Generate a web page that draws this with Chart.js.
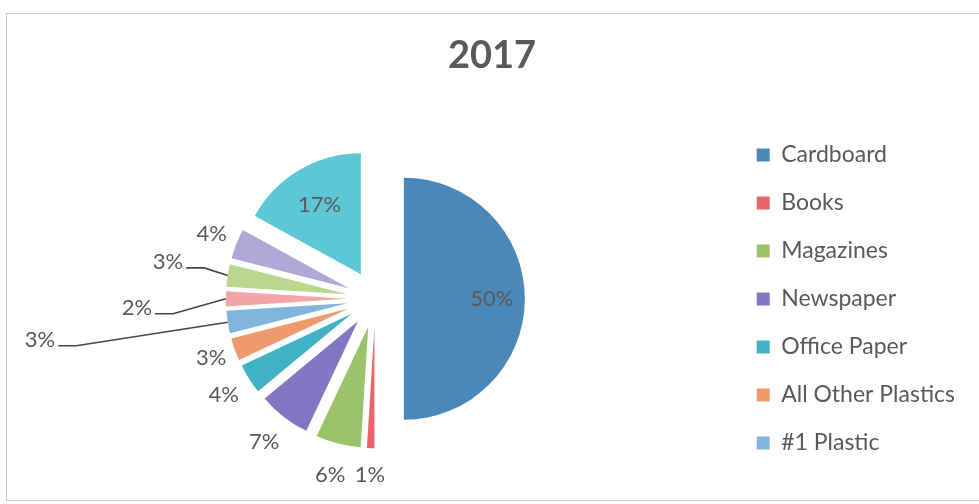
<!DOCTYPE html>
<html>
<head>
<meta charset="utf-8">
<script src="https://cdn.jsdelivr.net/npm/chart.js@4.4.1/dist/chart.umd.min.js"></script>
<style>
  body { margin: 0; background: #fff; }
  #frame { position: absolute; left: 6px; top: 13px; width: 990px; height: 486px; border: 1px solid #c9c9c9; }
  #wrap { position: absolute; left: 0; top: 0; width: 979px; height: 504px; }
</style>
</head>
<body>
<div id="frame"></div>
<div id="wrap"><canvas id="pieChart" width="979" height="504"></canvas></div>
<script>
// values (percent)
const categories = ['Cardboard', 'Books', 'Magazines', 'Newspaper', 'Office Paper', 'All Other Plastics', '#1 Plastic',
    'Other 1', 'Other 2', 'Other 3', 'Other 4'];
const shares = [50, 1, 6, 7, 4, 3, 3, 2, 3, 4, 17];
const legendCount = 7; // only the first seven names show in the legend

const sliceColors = ['#4a88b9', '#e8656c', '#9cc26a', '#8476c2', '#40b2c4', '#ef9a6c',
    '#80b6dc', '#f4a5a8', '#b9d68e', '#b2a8d8', '#5ec7d6'];

const pieRadius = 121;
const explode = 28.5; // every slice pulled out by the same distance

// where each percentage goes: distance from the slice tip, extra shift, leader line
const labelPlace = [
    { d: 88 }, { d: 147.5 }, { d: 153 }, { d: 153 }, { d: 151 }, { d: 146 },
    { d: 150, dx: -159, dy: 13, leader: true },
    { d: 150, dx: -60, dy: 9, leader: true },
    { d: 150, dx: -31, dy: -9, leader: true },
    { d: 147.5 }, { d: 81 }
];

// Chart.js' own offset also narrows and grows the arcs, so move each slice's centre out instead
const explodeSlices = {
    id: 'explodeSlices',
    afterDatasetsUpdate(chart) {
        chart.getDatasetMeta(0).data.forEach(function(arc) {
            const mid = (arc.startAngle + arc.endAngle) / 2;
            arc.x += Math.cos(mid) * explode;
            arc.y += Math.sin(mid) * explode;
        });
    }
};

const pctLabels = {
    id: 'pctLabels',
    afterDatasetsDraw(chart) {
        const ctx = chart.ctx;
        const meta = chart.getDatasetMeta(0);
        ctx.save();
        ctx.font = '22px Lato';
        ctx.fillStyle = '#595959';
        ctx.textAlign = 'center';
        ctx.textBaseline = 'middle';
        meta.data.forEach(function(arc, i) {
            const mid = (arc.startAngle + arc.endAngle) / 2;
            const pl = labelPlace[i];
            const lx = arc.x + Math.cos(mid) * pl.d + (pl.dx || 0);
            const ly = arc.y + Math.sin(mid) * pl.d + (pl.dy || 0);
            const txt = shares[i] + '%';
            ctx.fillText(txt, lx, ly);
            if (pl.leader) {
                const w = ctx.measureText(txt).width;
                const ex = arc.x + Math.cos(mid) * arc.outerRadius;
                const ey = arc.y + Math.sin(mid) * arc.outerRadius;
                ctx.beginPath();
                ctx.strokeStyle = '#454545';
                ctx.lineWidth = 1.6;
                ctx.moveTo(lx + w / 2 + 3, ly + 6);
                ctx.lineTo(lx + w / 2 + 21, ly + 6);
                ctx.lineTo(ex, ey);
                ctx.stroke();
            }
        });
        ctx.restore();
    }
};

const ctx = document.getElementById('pieChart').getContext('2d');
new Chart(ctx, {
    type: 'pie',
    data: {
        labels: categories,
        datasets: [{
            data: shares,
            backgroundColor: sliceColors,
            borderWidth: 0,
            radius: pieRadius
        }]
    },
    options: {
        responsive: false,
        animation: false,
        layout: { padding: { left: 19, right: 14, top: 0, bottom: 6 } },
        plugins: {
            title: {
                display: true,
                text: '2017',
                color: '#595959',
                font: { family: 'Lato', size: 38, weight: 'bold' },
                padding: { top: 33, bottom: 21 }
            },
            legend: {
                position: 'right',
                title: { display: true, text: '', font: { size: 12 }, padding: { top: 85.6, bottom: 0 } },
                labels: {
                    color: '#595959',
                    font: { family: 'Lato', size: 23 },
                    boxWidth: 13,
                    boxHeight: 13,
                    padding: 25,
                    filter: function(item) { return item.index < legendCount; }
                }
            },
            tooltip: { enabled: false }
        }
    },
    plugins: [explodeSlices, pctLabels]
});
</script>
</body>
</html>
